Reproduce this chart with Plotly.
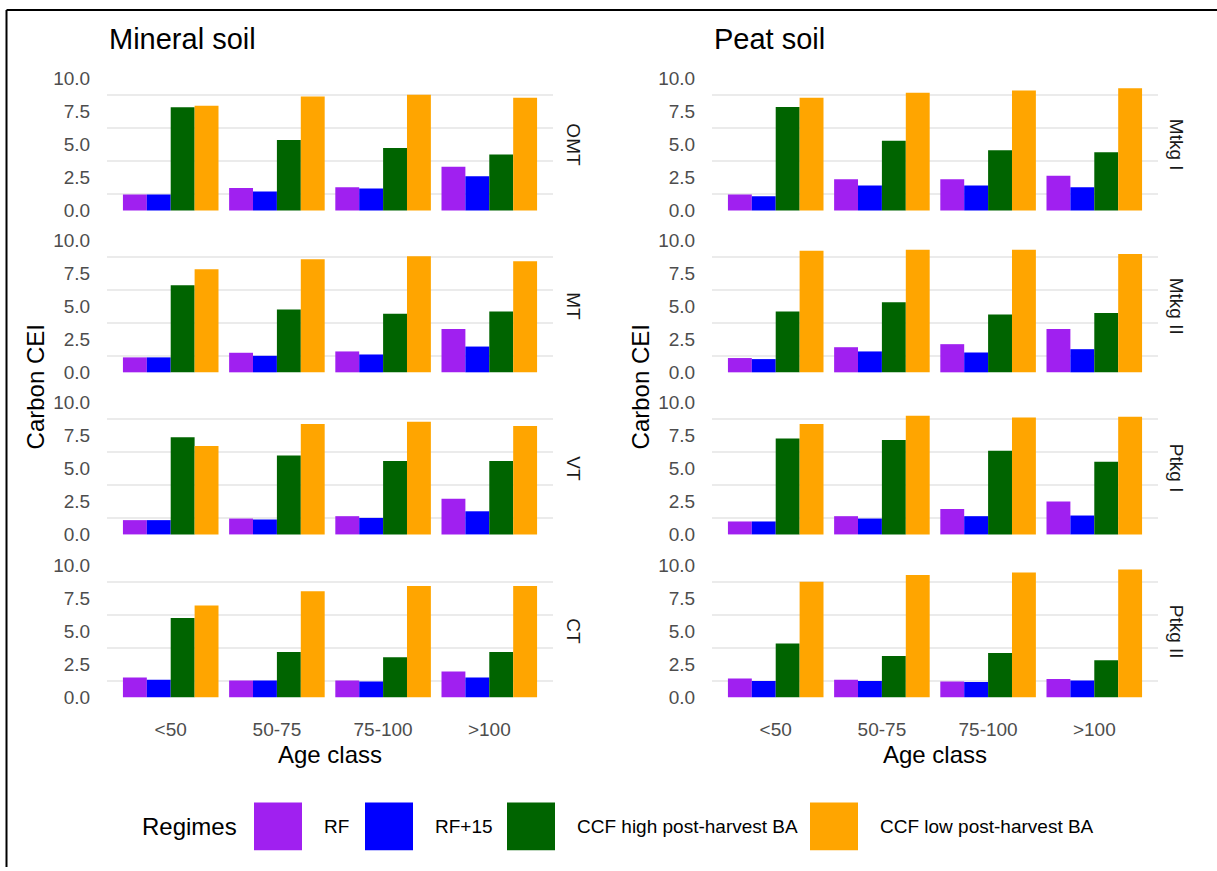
import plotly.graph_objects as go
from plotly.subplots import make_subplots

# ---------------- data ----------------
age_classes = ["<50", "50-75", "75-100", ">100"]
regimes = ["RF", "RF+15", "CCF high post-harvest BA", "CCF low post-harvest BA"]
mineral_sites = ["OMT", "MT", "VT", "CT"]
peat_sites = ["Mtkg I", "Mtkg II", "Ptkg I", "Ptkg II"]
y_ticks = [0, 2.5, 5, 7.5, 10]
y_tick_labels = ["0.0", "2.5", "5.0", "7.5", "10.0"]

# values per regime (rows) across age classes (columns)
omt = [[1.20, 1.70, 1.75, 3.30],
       [1.20, 1.43, 1.65, 2.58],
       [7.80, 5.33, 4.73, 4.23],
       [7.93, 8.63, 8.75, 8.53]]
mt = [[1.13, 1.48, 1.58, 3.28],
      [1.13, 1.25, 1.35, 1.95],
      [6.58, 4.75, 4.43, 4.60],
      [7.80, 8.55, 8.78, 8.40]]
vt = [[1.08, 1.20, 1.38, 2.70],
      [1.08, 1.13, 1.25, 1.75],
      [7.35, 5.98, 5.55, 5.55],
      [6.70, 8.35, 8.53, 8.20]]
ct = [[1.50, 1.28, 1.28, 1.95],
      [1.33, 1.28, 1.20, 1.50],
      [6.00, 3.43, 3.03, 3.43],
      [6.95, 8.03, 8.43, 8.43]]
mtkg1 = [[1.20, 2.35, 2.35, 2.63],
         [1.08, 1.88, 1.88, 1.75],
         [7.83, 5.28, 4.55, 4.40],
         [8.53, 8.90, 9.08, 9.25]]
mtkg2 = [[1.08, 1.90, 2.13, 3.28],
         [1.00, 1.58, 1.50, 1.75],
         [4.60, 5.30, 4.38, 4.48],
         [9.20, 9.28, 9.28, 8.95]]
ptkg1 = [[0.98, 1.38, 1.93, 2.50],
         [0.98, 1.20, 1.38, 1.43],
         [7.25, 7.15, 6.33, 5.50],
         [8.35, 8.98, 8.85, 8.90]]
ptkg2 = [[1.43, 1.33, 1.20, 1.38],
         [1.23, 1.23, 1.15, 1.28],
         [4.08, 3.13, 3.35, 2.80],
         [8.75, 9.25, 9.45, 9.68]]

mineral_values = [omt, mt, vt, ct]
peat_values = [mtkg1, mtkg2, ptkg1, ptkg2]

# ---------------- style ----------------
regime_colors = ["#A020F0", "#0000FF", "#006400", "#FFA500"]
W, H = 1217, 871
FONT = "Liberation Sans, Arial, sans-serif"
GRID = "#EBEBEB"
TICKC = "#4D4D4D"


def px2x(p):
    return p / W


def px2y(p):
    return 1 - p / H


col_px = [(107, 553), (712, 1158)]
row_px = [(68.3, 215.0), (231.7, 378.4), (395.3, 542.0), (559.7, 706.4)]

fig = make_subplots(rows=4, cols=2)

for c, (sites, values) in enumerate([(mineral_sites, mineral_values), (peat_sites, peat_values)]):
    for r in range(4):
        for k, reg in enumerate(regimes):
            fig.add_trace(
                go.Bar(
                    x=age_classes,
                    y=values[r][k],
                    name=reg,
                    marker=dict(color=regime_colors[k], line=dict(width=0)),
                    showlegend=False,
                    offsetgroup=str(k),
                ),
                row=r + 1, col=c + 1,
            )

fig.update_layout(barmode="group", bargap=0.1, bargroupgap=0.0)

for c in range(2):
    for r in range(4):
        idx = r * 2 + c + 1
        xa = "xaxis" if idx == 1 else f"xaxis{idx}"
        ya = "yaxis" if idx == 1 else f"yaxis{idx}"
        x0, x1 = col_px[c]
        y0, y1 = row_px[r]
        fig.layout[xa].update(
            domain=[px2x(x0), px2x(x1)],
            range=[-0.6, 3.6],
            showgrid=False,
            zeroline=False,
            showline=False,
            showticklabels=(r == 3),
            ticks="outside", ticklen=8, tickcolor="rgba(0,0,0,0)",
            tickfont=dict(family=FONT, size=19, color=TICKC),
            categoryorder="array", categoryarray=age_classes,
        )
        fig.layout[ya].update(
            domain=[px2y(y1), px2y(y0)],
            range=[-0.5, 10.5],
            tickmode="array", tickvals=y_ticks, ticktext=y_tick_labels,
            showgrid=False,
            zeroline=False,
            showline=False,
            ticks="outside", ticklen=12, tickcolor="rgba(0,0,0,0)",
            tickfont=dict(family=FONT, size=19, color=TICKC),
            minor=dict(tickmode="array", tickvals=[1.25, 3.75, 6.25, 8.75],
                       showgrid=True, gridcolor=GRID, gridwidth=1.6, ticks=""),
        )

annotations = []
# column titles
for title, xp in [("Mineral soil", 107), ("Peat soil", 712)]:
    annotations.append(dict(text=title, x=px2x(xp), y=px2y(35), xref="paper", yref="paper",
                            xanchor="left", yanchor="middle", showarrow=False,
                            font=dict(family=FONT, size=29, color="black")))
# strip labels
strip_x = [574, 1176.5]
for c, sites in enumerate([mineral_sites, peat_sites]):
    for r, s in enumerate(sites):
        yc = (row_px[r][0] + row_px[r][1]) / 2
        annotations.append(dict(text=s, x=px2x(strip_x[c]), y=px2y(yc), xref="paper", yref="paper",
                                xanchor="center", yanchor="middle", showarrow=False, textangle=90,
                                font=dict(family=FONT, size=19, color="#1A1A1A")))
# axis titles
for c in range(2):
    xc = (col_px[c][0] + col_px[c][1]) / 2
    annotations.append(dict(text="Age class", x=px2x(xc), y=px2y(757), xref="paper", yref="paper",
                            xanchor="center", yanchor="middle", showarrow=False,
                            font=dict(family=FONT, size=24, color="black")))
for xp in [35, 640]:
    annotations.append(dict(text="Carbon CEI", x=px2x(xp), y=px2y(387), xref="paper", yref="paper",
                            xanchor="center", yanchor="middle", showarrow=False, textangle=-90,
                            font=dict(family=FONT, size=24, color="black")))

# legend (drawn manually to match large square keys)
shapes = []
annotations.append(dict(text="Regimes", x=px2x(140), y=px2y(830), xref="paper", yref="paper",
                        xanchor="left", yanchor="middle", showarrow=False,
                        font=dict(family=FONT, size=24, color="black")))
key_x = [254, 365, 507, 810]
for k, reg in enumerate(regimes):
    shapes.append(dict(type="rect", xref="paper", yref="paper",
                       x0=px2x(key_x[k]), x1=px2x(key_x[k] + 48),
                       y0=px2y(854), y1=px2y(806),
                       fillcolor=regime_colors[k], line=dict(width=0)))
    annotations.append(dict(text=reg, x=px2x(key_x[k] + 68), y=px2y(830), xref="paper", yref="paper",
                            xanchor="left", yanchor="middle", showarrow=False,
                            font=dict(family=FONT, size=19, color="black")))

# outer frame lines (top and left)
shapes.append(dict(type="line", xref="paper", yref="paper", x0=px2x(6.5), x1=1.0,
                   y0=px2y(6), y1=px2y(6), line=dict(color="black", width=2)))
shapes.append(dict(type="line", xref="paper", yref="paper", x0=px2x(6.5), x1=px2x(6.5),
                   y0=px2y(6), y1=0.0, line=dict(color="black", width=2)))

fig.update_layout(
    width=W, height=H,
    margin=dict(l=0, r=0, t=0, b=0),
    paper_bgcolor="white", plot_bgcolor="white",
    annotations=annotations, shapes=shapes,
    showlegend=False,
    font=dict(family=FONT),
)

fig.write_html("out.html",
               config={"displayModeBar": False},
               post_script="document.body.style.margin='0';document.body.style.overflow='hidden';")
